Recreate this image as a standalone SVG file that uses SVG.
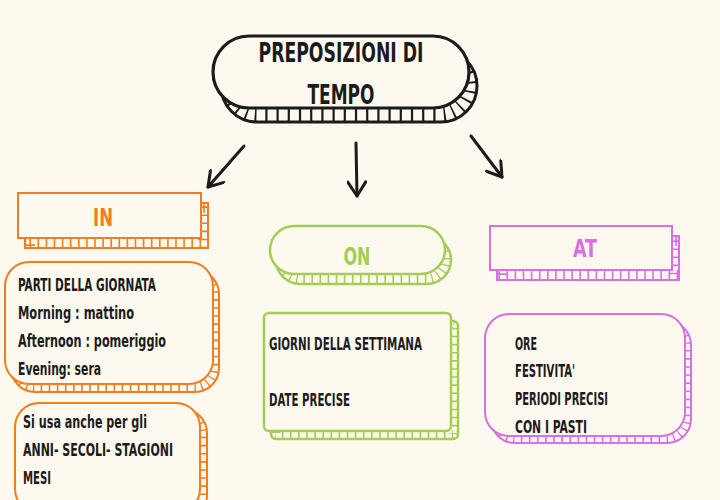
<svg xmlns="http://www.w3.org/2000/svg" width="720" height="500" viewBox="0 0 720 500">
<style>
.bg{fill:#FDF9EF}
.t{font-family:"DejaVu Sans Condensed","DejaVu Sans","Liberation Sans",sans-serif;font-weight:bold;fill:#1b1b1b;font-size:17px}
.h{font-family:"DejaVu Sans Condensed","DejaVu Sans","Liberation Sans",sans-serif;font-weight:bold;font-size:24px;text-anchor:middle}
.blk{stroke:#1b1b1b}
.org{stroke:#F07D1E}
.grn{stroke:#A2CE55}
.mag{stroke:#D870E2}
.tick{fill:none;stroke-dasharray:1.6 6.5}
.conn path{fill:none;stroke:#1b1b1b;stroke-width:3;stroke-linecap:round}
</style>
<defs>
<marker id="ah" viewBox="0 0 20 20" refX="17" refY="10" markerWidth="20" markerHeight="20" markerUnits="userSpaceOnUse" orient="auto">
<path d="M3,1 L17,10 L3,19" fill="none" stroke="#1b1b1b" stroke-width="3" stroke-linecap="round" stroke-linejoin="round"/>
</marker>
<clipPath id="cT"><rect x="221" y="50" width="256" height="72" rx="36"/></clipPath>
<clipPath id="cIN"><rect x="25" y="203" width="183" height="45"/></clipPath>
<clipPath id="cON"><rect x="276" y="236" width="175" height="48" rx="24"/></clipPath>
<clipPath id="cAT"><rect x="497" y="236" width="182" height="44"/></clipPath>
<clipPath id="cI1"><rect x="11" y="270" width="208" height="122" rx="24"/></clipPath>
<clipPath id="cI2"><rect x="22" y="409" width="185" height="110" rx="24"/></clipPath>
<clipPath id="cO1"><rect x="271" y="321" width="187" height="118" rx="5"/></clipPath>
<clipPath id="cA1"><rect x="491" y="321" width="200" height="122" rx="24"/></clipPath>
</defs>
<rect class="bg" x="0" y="0" width="720" height="500"/>

<g class="conn" id="connectors">
<path d="M244,146 L208,187" marker-end="url(#ah)"/>
<path d="M356,143 L357,196" marker-end="url(#ah)"/>
<path d="M471,136 L502,177" marker-end="url(#ah)"/>
</g>

<g id="title">
<rect class="bg blk" x="221" y="50" width="256" height="72" rx="36" stroke-width="3"/>
<rect class="tick blk" x="221" y="50" width="256" height="72" rx="36" stroke-width="30" clip-path="url(#cT)" style="stroke-dasharray:2.2 9"/>
<rect class="bg blk" x="213" y="36" width="256" height="72" rx="36" stroke-width="3.2"/>
<text class="h" x="341" y="62" style="fill:#1b1b1b;font-size:27px" textLength="165" lengthAdjust="spacingAndGlyphs">PREPOSIZIONI DI</text>
<text class="h" x="341" y="104" style="fill:#1b1b1b;font-size:27px" textLength="67" lengthAdjust="spacingAndGlyphs">TEMPO</text>
</g>

<g id="in-head">
<rect class="bg org" x="25" y="203" width="183" height="45" stroke-width="2"/>
<rect class="tick org" x="25" y="203" width="183" height="45" stroke-width="20" clip-path="url(#cIN)"/>
<rect class="bg org" x="18" y="193" width="183" height="45" stroke-width="2"/>
<text class="h" x="103" y="226" style="fill:#F07D1E" textLength="20" lengthAdjust="spacingAndGlyphs">IN</text>
</g>

<g id="on-head">
<rect class="bg grn" x="276" y="236" width="175" height="48" rx="24" stroke-width="2.5"/>
<rect class="tick grn" x="276" y="236" width="175" height="48" rx="24" stroke-width="20" clip-path="url(#cON)"/>
<rect class="bg grn" x="270" y="226" width="175" height="48" rx="24" stroke-width="2.5"/>
<text class="h" x="357" y="265" style="fill:#A2CE55" textLength="27" lengthAdjust="spacingAndGlyphs">ON</text>
</g>

<g id="at-head">
<rect class="bg mag" x="497" y="236" width="182" height="44" stroke-width="2"/>
<rect class="tick mag" x="497" y="236" width="182" height="44" stroke-width="20" clip-path="url(#cAT)"/>
<rect class="bg mag" x="490" y="226" width="182" height="44" stroke-width="2"/>
<text class="h" x="585" y="257" style="fill:#D870E2" textLength="24" lengthAdjust="spacingAndGlyphs">AT</text>
</g>

<g id="in-body">
<rect class="bg org" x="11" y="270" width="208" height="122" rx="24" stroke-width="2"/>
<rect class="tick org" x="11" y="270" width="208" height="122" rx="24" stroke-width="18" clip-path="url(#cI1)"/>
<rect class="bg org" x="5" y="262" width="208" height="122" rx="24" stroke-width="2"/>
<text class="t" x="18" y="291" textLength="138" lengthAdjust="spacingAndGlyphs">PARTI DELLA GIORNATA</text>
<text class="t" x="18" y="319" textLength="116" lengthAdjust="spacingAndGlyphs">Morning : mattino</text>
<text class="t" x="18" y="347" textLength="148" lengthAdjust="spacingAndGlyphs">Afternoon : pomeriggio</text>
<text class="t" x="18" y="375" textLength="83" lengthAdjust="spacingAndGlyphs">Evening: sera</text>
</g>

<g id="in-extra">
<rect class="bg org" x="22" y="409" width="185" height="110" rx="24" stroke-width="2"/>
<rect class="tick org" x="22" y="409" width="185" height="110" rx="24" stroke-width="16" clip-path="url(#cI2)"/>
<rect class="bg org" x="15" y="403" width="185" height="110" rx="24" stroke-width="2"/>
<text class="t" x="23" y="428" textLength="124" lengthAdjust="spacingAndGlyphs">Si usa anche per gli</text>
<text class="t" x="23" y="456" textLength="150" lengthAdjust="spacingAndGlyphs">ANNI- SECOLI- STAGIONI</text>
<text class="t" x="23" y="484" textLength="28" lengthAdjust="spacingAndGlyphs">MESI</text>
</g>

<g id="on-body">
<rect class="bg grn" x="271" y="321" width="187" height="118" rx="5" stroke-width="2.5"/>
<rect class="tick grn" x="271" y="321" width="187" height="118" rx="5" stroke-width="18" clip-path="url(#cO1)"/>
<rect class="bg grn" x="264" y="313" width="187" height="118" rx="5" stroke-width="2.5"/>
<text class="t" x="269" y="350" textLength="153" lengthAdjust="spacingAndGlyphs">GIORNI DELLA SETTIMANA</text>
<text class="t" x="269" y="406" textLength="81" lengthAdjust="spacingAndGlyphs">DATE PRECISE</text>
</g>

<g id="at-body">
<rect class="bg mag" x="491" y="321" width="200" height="122" rx="24" stroke-width="2"/>
<rect class="tick mag" x="491" y="321" width="200" height="122" rx="24" stroke-width="16" clip-path="url(#cA1)"/>
<rect class="bg mag" x="485" y="314" width="200" height="122" rx="24" stroke-width="2"/>
<text class="t" x="515" y="350" textLength="22" lengthAdjust="spacingAndGlyphs">ORE</text>
<text class="t" x="515" y="377" textLength="60" lengthAdjust="spacingAndGlyphs">FESTIVITA'</text>
<text class="t" x="515" y="405" textLength="93" lengthAdjust="spacingAndGlyphs">PERIODI PRECISI</text>
<text class="t" x="515" y="433" textLength="72" lengthAdjust="spacingAndGlyphs">CON I PASTI</text>
</g>
</svg>
